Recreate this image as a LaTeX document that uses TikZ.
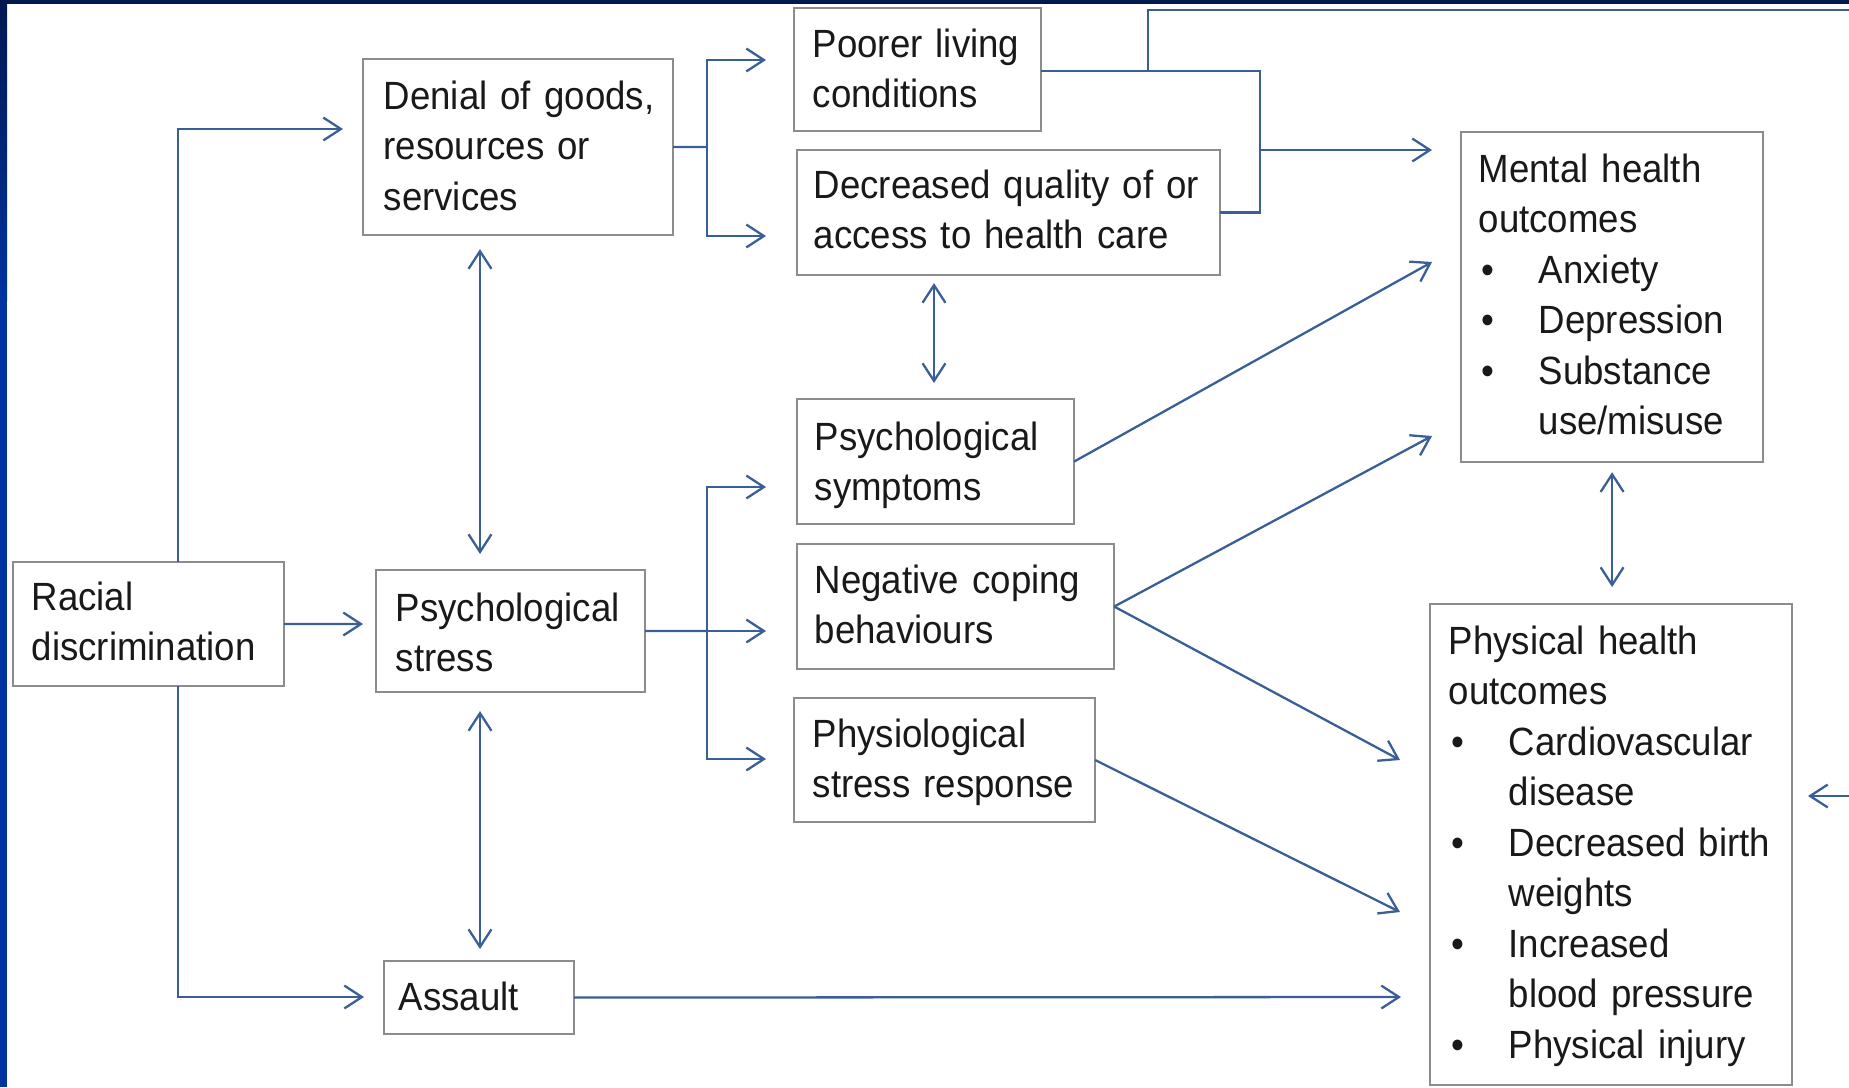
\documentclass[tikz,border=0pt]{standalone}
\usepackage{fontspec}
\setmainfont{Liberation Sans}[FakeStretch=0.93]
\usetikzlibrary{arrows.meta,calc}
\definecolor{conncol}{RGB}{58,94,150}
\definecolor{boxcol}{RGB}{140,140,140}
\definecolor{navy}{RGB}{0,24,80}
\definecolor{bandblue}{RGB}{0,51,160}
\definecolor{txtcol}{RGB}{25,25,25}
\tikzset{
 box/.style={draw=boxcol, line width=0.6pt, anchor=north west, inner sep=0pt, outer sep=0pt},
 txt/.style={anchor=base west, align=left, text width=5cm, inner sep=0pt, text=txtcol, font=\fontsize{11.2}{14.37}\selectfont},
 conn/.style={draw=conncol, line width=0.65pt},
 arr/.style={conn, -{Straight Barb[length=5pt,width=6.5pt]}},
 arrboth/.style={conn, {Straight Barb[length=5pt,width=6.5pt]}-{Straight Barb[length=5pt,width=6.5pt]}},
}
\newcommand\bul{\makebox[0.6cm][l]{\hspace{0.03cm}\textbullet}}
\newcommand\indt{\hspace*{0.6cm}}
\begin{document}
\begin{tikzpicture}[x=0.01cm,y=-0.01cm]
\useasboundingbox (0,0) rectangle (1849,1087);
\fill[white] (0,0) rectangle (1849,1087);
\shade[top color=navy,bottom color=bandblue] (0,0) rectangle (7,300);
\fill[bandblue] (0,300) rectangle (7,1087);
\fill[navy] (0,0) rectangle (1849,4);

% boxes
\node[box, minimum width=2.71cm, minimum height=1.24cm] (rd) at (13,562) {};
\node[box, minimum width=3.10cm, minimum height=1.76cm] (den) at (363,59) {};
\node[box, minimum width=2.47cm, minimum height=1.23cm] (poor) at (794,8) {};
\node[box, minimum width=4.23cm, minimum height=1.25cm] (dec) at (797,150) {};
\node[box, minimum width=2.69cm, minimum height=1.22cm] (pstress) at (376,570) {};
\node[box, minimum width=1.90cm, minimum height=0.73cm] (asslt) at (384,961) {};
\node[box, minimum width=2.77cm, minimum height=1.25cm] (psym) at (797,399) {};
\node[box, minimum width=3.17cm, minimum height=1.25cm] (neg) at (797,544) {};
\node[box, minimum width=3.01cm, minimum height=1.24cm] (phys) at (794,698) {};
\node[box, minimum width=3.02cm, minimum height=3.30cm] (mh) at (1461,132) {};
\node[box, minimum width=3.62cm, minimum height=4.81cm] (ph) at (1430,604) {};

% texts
\node[txt] (rdt) at (31,610) {Racial\\discrimination};
\node[txt] (dent) at (383,109) {Denial of goods,\\resources or\\services};
\node[txt] (poort) at (812,57) {Poorer living\\conditions};
\node[txt] (dect) at (813,198) {Decreased quality of or\\access to health care};
\node[txt] (pstresst) at (395,621) {Psychological\\stress};
\node[txt] (asslt-t) at (398,1010) {Assault};
\node[txt] (psymt) at (814,450) {Psychological\\symptoms};
\node[txt] (negt) at (814,593) {Negative coping\\behaviours};
\node[txt] (physt) at (812,747) {Physiological\\stress response};
\node[txt] (mht) at (1478,182) {Mental health\\outcomes\\\bul Anxiety\\\bul Depression\\\bul Substance\\\indt use/misuse};
\node[txt] (pht) at (1448,654) {Physical health\\outcomes\\\bul Cardiovascular\\\indt disease\\\bul Decreased birth\\\indt weights\\\bul Increased\\\indt blood pressure\\\bul Physical injury};

% coordinates
\coordinate (rdx) at (178,0);
\coordinate (tden) at (343,129);
\coordinate (tas) at (364,997);
\coordinate (tps) at (363,624);
\coordinate (vx) at (480,0);
\coordinate (b1) at (707,147);
\coordinate (tpoor) at (766,60);
\coordinate (tdec) at (766,236);
\coordinate (m1) at (1260,71);
\coordinate (m2) at (1260,150);
\coordinate (tmh1) at (1432,150);
\coordinate (m3) at (1148,71);
\coordinate (edgeA) at (1860,10);
\coordinate (vx2) at (934,0);
\coordinate (b2) at (707,631);
\coordinate (tneg) at (766,631);
\coordinate (tpsym) at (766,487);
\coordinate (tphys) at (766,759);
\coordinate (tmh2) at (1432,262);
\coordinate (tmh3) at (1432,436);
\coordinate (tph1) at (1400,760);
\coordinate (tph2) at (1400,912);
\coordinate (tph3) at (1401,997);
\coordinate (edgeB) at (1860,796);
\coordinate (tph4) at (1808,796);

% connectors
\draw[arr] (rdx |- rd.north) |- (tden);
\draw[arr] (rdx |- rd.south) |- (tas);
\draw[arr] (rd.east) -- (tps);
\draw[arrboth, shorten <=0.14cm, shorten >=0.16cm] (vx |- den.south) -- (vx |- pstress.north);
\draw[arrboth, shorten <=0.19cm, shorten >=0.12cm] (vx |- pstress.south) -- (vx |- asslt.north);
\draw[conn] (den.east) -- (b1);
\draw[arr] (b1) |- (tpoor);
\draw[arr] (b1) |- (tdec);
\draw[conn] (poor.east |- m1) -- (m1) |- (dec.east);
\draw[arr] (m2) -- (tmh1);
\draw[conn] (m3) |- (edgeA);
\draw[arrboth, shorten <=0.08cm, shorten >=0.16cm] (vx2 |- dec.south) -- (vx2 |- psym.north);
\draw[conn] (pstress.east) -- (b2);
\draw[arr] (b2) -- (tneg);
\draw[arr] (b2) |- (tpsym);
\draw[arr] (b2) |- (tphys);
\draw[arr] (psym.east) -- (tmh2);
\draw[arr] (neg.east) -- (tmh3);
\draw[arr] (neg.east) -- (tph1);
\draw[arr] (phys.east) -- (tph2);
\draw[arrboth, shorten <=0.1cm, shorten >=0.17cm] (mh.south) -- (mh.south |- ph.north);
\draw[arr] (asslt.east) -- (tph3);
\draw[arr] (edgeB) -- (tph4);
\end{tikzpicture}
\end{document}
